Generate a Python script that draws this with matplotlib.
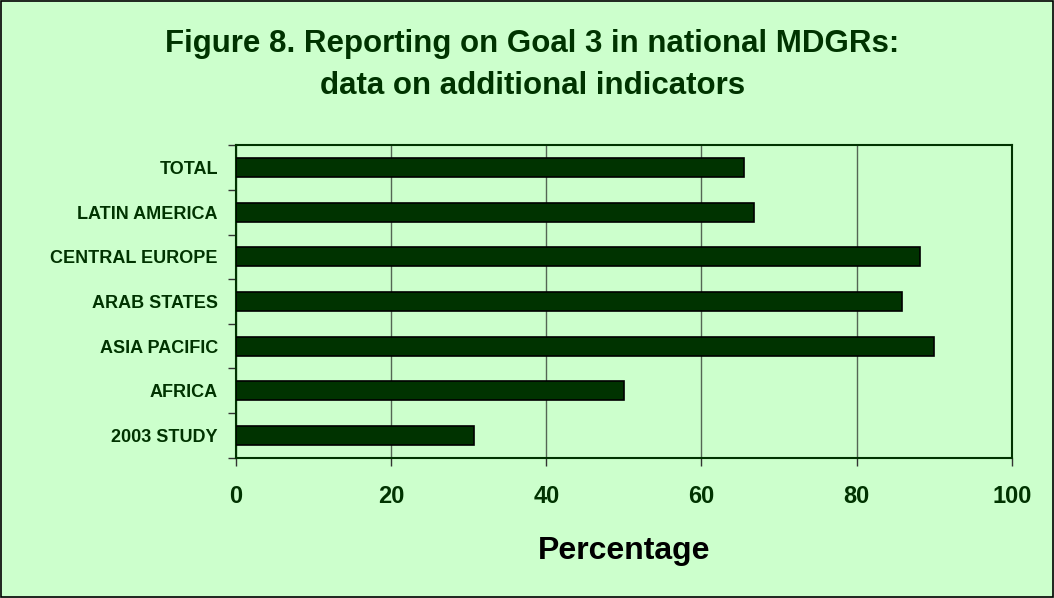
import matplotlib.pyplot as plt
import numpy as np

categories = ['2003 STUDY', 'AFRICA', 'ASIA PACIFIC', 'ARAB STATES',
              'CENTRAL EUROPE', 'LATIN AMERICA', 'TOTAL']
values = [30.7, 50.0, 90.0, 85.9, 88.2, 66.8, 65.5]
xticks = [0, 20, 40, 60, 80, 100]

bg = '#CCFFCC'
bar_color = '#003300'
text_color = '#003300'

plt.rcParams['font.family'] = ['Liberation Sans', 'DejaVu Sans']

fig = plt.figure(figsize=(10.54, 5.98), dpi=100, facecolor=bg)
# border round the whole figure
fig.patches.append(plt.Rectangle((0.0005, 0.001), 0.999, 0.998, transform=fig.transFigure,
                                 fill=False, edgecolor='black', linewidth=1.2))

ax = fig.add_axes([0.2239, 0.2346, 0.736, 0.5224])
ax.set_facecolor(bg)

y = np.arange(len(categories))
ax.barh(y, values, height=0.43, color=bar_color, edgecolor='black', linewidth=1.2, zorder=3)

ax.set_xlim(0, 100)
ax.set_ylim(-0.5, len(categories) - 0.5)
ax.set_xticks(xticks)
ax.set_xticklabels([str(t) for t in xticks], fontsize=17, fontweight='bold', color=text_color)
ax.set_yticks(y)
ax.set_yticklabels(categories, fontsize=13, fontweight='bold', color=text_color)
ax.tick_params(axis='y', which='major', length=0, pad=13)
ax.set_yticks(np.arange(-0.5, len(categories)), minor=True)
ax.tick_params(axis='y', which='minor', length=6, width=1, color='#333333', direction='out')
ax.tick_params(axis='x', length=6, width=1, color='#333333', direction='out', pad=14)

ax.grid(axis='x', color='#556655', linewidth=1.0, zorder=0)
for s in ax.spines.values():
    s.set_color('#003300')
    s.set_linewidth(1.5)

ax.set_xlabel('Percentage', fontsize=23, fontweight='bold', labelpad=20, color='black')

fig.text(0.505, 0.891, 'Figure 8. Reporting on Goal 3 in national MDGRs:\ndata on additional indicators',
         ha='center', va='center', fontsize=22.5, fontweight='bold', color=text_color,
         linespacing=1.5)

fig.savefig('out.png', dpi=100, facecolor=bg)
